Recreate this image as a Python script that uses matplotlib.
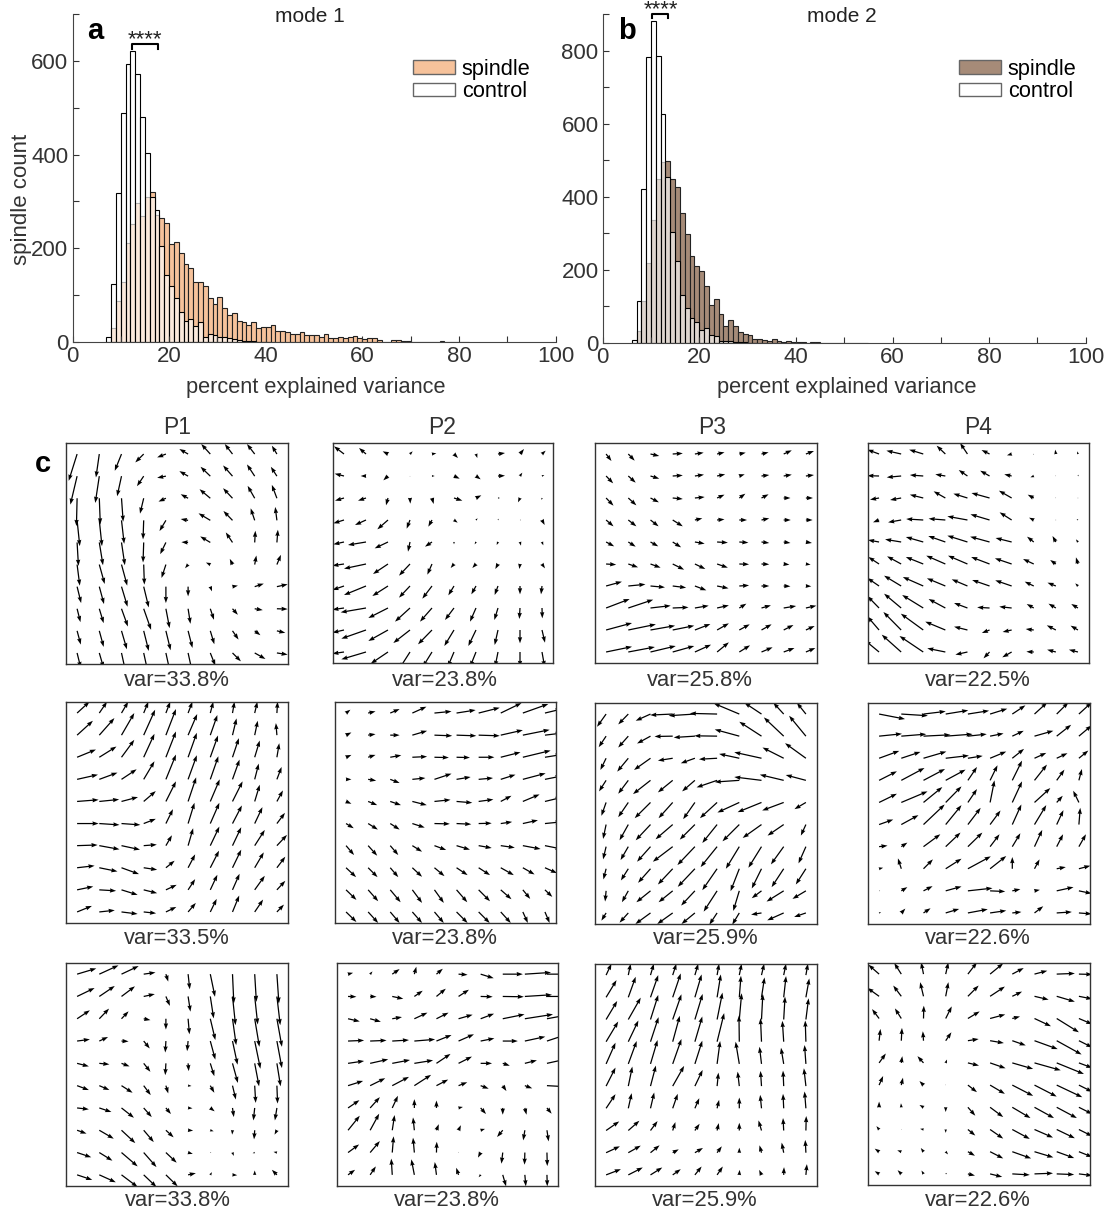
import numpy as np
import matplotlib
matplotlib.use("Agg")
import matplotlib.pyplot as plt

plt.rcParams['font.family'] = ['Liberation Sans', 'DejaVu Sans']

W = 1109
H = 1212

# histogram counts per 1% bin
ctrl_a_start = 7
ctrl_a = [11,124,319,488,593,621,572,481,403,310,282,205,143,120,94,65,44,49,35,42,11,18,16,11,10,9,6,4,3,2,2,1,1,1]
spin_a_start = 8
spin_a = [30,87,129,211,252,296,269,309,320,271,264,254,209,213,191,166,158,127,127,120,94,81,95,73,57,62,45,43,37,42,30,33,31,36,23,23,21,17,18,22,16,14,16,11,18,9,9,11,9,11,12,9,6,9,9,5,1,1,4,4,3,3,1,0,1,1,0,1,2,1,0,1,1,1]
ctrl_b_start = 6
ctrl_b = [7,116,421,782,881,784,626,455,305,223,131,95,68,58,36,40,22,19,6,6,6,4,3,2,1,1]
spin_b_start = 7
spin_b = [33,115,218,337,448,495,497,448,426,355,297,239,212,197,155,105,121,80,47,62,47,31,24,21,12,11,7,6,10,5,4,5,3,4,3,1,2,2,1,1,1,1,1,1,1,1,1,1]

x_ticks = [0, 20, 40, 60, 80, 100]
y_ticks_a = [0, 200, 400, 600]
y_ticks_b = [0, 200, 400, 600, 800]
col_titles = ['P1', 'P2', 'P3', 'P4']
var_labels = [['var=33.8%', 'var=23.8%', 'var=25.8%', 'var=22.5%'],
              ['var=33.5%', 'var=23.8%', 'var=25.9%', 'var=22.6%'],
              ['var=33.8%', 'var=23.8%', 'var=25.9%', 'var=22.6%']]

# arrow components, top row first
u11 = [[-25,-10,-20,-25,-26,-26,-27,-23,-23,-15],[-20,-12,-13,-20,-26,-26,-29,-28,-23,-18],[-2,3,5,-11,-22,-22,-32,-28,-21,-15],[8,8,8,-2,-19,-22,-35,-27,-12,-5],[4,11,10,-2,-17,-20,-30,-20,2,3],[8,16,17,2,-13,-9,-13,-8,5,12],[12,14,18,15,0,0,5,16,27,32],[10,13,19,22,11,7,11,16,24,32],[11,13,16,15,14,13,12,18,17,25],[11,13,12,12,12,12,15,25,32,32]]
v11 = [[-80,-70,-50,-25,-10,15,30,30,30,25],[-85,-80,-60,-30,-5,15,28,32,35,28],[-83,-78,-70,-46,-10,12,27,30,37,40],[-77,-77,-70,-57,-32,4,21,28,36,40],[-70,-68,-68,-60,-35,1,18,30,35,38],[-63,-58,-63,-60,-40,-11,6,17,27,29],[-49,-52,-60,-62,-49,-29,-14,3,9,7],[-40,-43,-53,-63,-58,-45,-33,-18,-4,-1],[-41,-48,-55,-60,-58,-51,-40,-26,-13,-6],[-45,-45,-55,-55,-55,-55,-38,-25,-18,-5]]
u12 = [[-30,-21,-16,8,13,12,4,21,12,11],[-28,-16,-14,0,8,17,14,21,7,7],[-27,-24,-6,1,5,25,16,6,-6,-1],[-32,-33,-32,-10,-11,11,5,2,3,8],[-32,-54,-40,-6,-21,0,-4,-4,3,4],[-35,-66,-45,-33,-14,-10,-11,-8,-2,9],[-35,-66,-47,-33,-29,-17,-14,-10,0,-3],[-35,-76,-59,-45,-36,-27,-18,-11,-2,1],[-35,-74,-59,-50,-42,-29,-23,-10,0,9],[-35,-74,-52,-32,-28,-19,-18,-9,0,8]]
v12 = [[23,18,8,8,2,-12,-12,3,15,10],[7,0,-13,-2,0,-8,-10,1,10,3],[-8,-8,-22,-17,-18,-8,8,0,-13,-6],[-10,-15,-28,-26,-20,-8,5,4,0,-15],[-7,-9,-19,-29,-14,-7,-7,-9,-11,-10],[-5,-14,-30,-35,-32,-12,-12,-15,-15,-13],[-12,-27,-30,-35,-38,-28,-25,-27,-25,-25],[-5,-13,-30,-41,-41,-36,-41,-36,-33,-31],[-8,-26,-33,-39,-43,-48,-48,-45,-40,-38],[-5,-22,-35,-50,-45,-45,-45,-45,-45,-45]]
u13 = [[16,19,26,30,26,22,19,21,24,24],[21,22,26,30,27,24,16,23,24,24],[22,24,25,30,29,22,18,21,20,21],[22,24,24,30,22,22,23,23,21,20],[24,22,23,25,29,32,27,23,20,18],[30,29,30,34,31,32,29,23,17,14],[47,51,43,40,34,34,29,23,20,16],[70,74,60,47,41,35,21,28,37,31],[77,82,73,64,46,35,31,30,29,26],[77,79,75,64,48,35,32,33,32,28]]
v13 = [[-21,-20,-6,2,4,5,4,5,11,9],[-22,-20,-8,2,4,5,5,3,4,3],[-23,-22,-13,-3,3,10,13,11,0,0],[-19,-19,-19,-19,5,2,0,5,0,0],[-13,-14,-13,-16,-5,-2,-2,-3,-3,-3],[-2,-10,-11,-17,-15,-11,-1,-1,-2,-2],[13,5,-4,-5,-13,-7,2,0,-1,-1],[27,25,7,2,7,8,13,8,6,7],[21,17,13,13,18,20,17,17,15,12],[16,15,18,18,22,29,20,14,12,12]]
u14 = [[-35,-44,-42,-26,-22,-24,-14,-2,-2,-2],[-35,-43,-40,-30,-26,-28,-22,-10,-2,2],[-27,-33,-40,-35,-42,-54,-38,-18,-2,-1],[-18,-39,-51,-50,-60,-57,-36,-14,-1,-4],[-33,-48,-52,-51,-60,-58,-48,-20,-10,-6],[-32,-42,-52,-57,-58,-55,-50,-32,-17,-6],[-35,-51,-61,-55,-47,-52,-49,-27,-25,-8],[-35,-51,-63,-50,-40,-37,-37,-21,-22,-20],[-35,-53,-67,-60,-40,-23,-27,-24,-27,-22],[-42,-58,-71,-54,-36,-18,-28,-22,-26,-27]]
v14 = [[13,10,13,25,33,12,-4,-2,13,8],[1,-4,3,5,18,16,5,-4,1,4],[-5,-6,10,20,13,15,22,10,1,0],[-7,-7,3,4,11,17,23,7,0,3],[6,8,15,18,19,16,12,16,18,8],[21,23,21,25,25,21,17,15,12,20],[24,31,27,23,20,18,17,13,10,8],[36,43,39,27,15,2,4,12,13,12],[41,54,49,25,10,-9,-6,3,14,13],[35,52,48,11,-8,-19,-16,1,7,7]]
u21 = [[37,23,20,14,13,13,9,6,8,2],[47,45,38,34,30,27,21,12,9,-3],[56,51,38,32,30,26,23,19,15,7],[62,54,45,32,30,26,24,21,12,14],[64,59,49,36,30,24,28,30,15,18],[64,60,56,36,21,19,27,28,23,24],[61,60,55,39,18,15,27,26,30,30],[52,54,52,40,26,21,26,26,27,25],[48,50,48,40,32,21,21,21,30,25],[44,46,48,37,31,23,19,20,25,21]]
v21 = [[34,34,34,34,34,34,34,34,34,34],[43,51,66,76,78,63,60,50,43,36],[23,32,52,70,77,73,65,57,50,42],[14,20,30,54,74,72,69,59,47,37],[5,6,13,31,60,72,66,60,50,33],[0,-4,-4,14,43,62,62,54,49,32],[2,-11,-12,3,31,52,57,55,47,32],[6,-11,-19,-6,21,40,51,54,46,33],[10,-3,-15,-10,15,32,45,48,42,27],[18,5,-6,-4,15,27,39,49,37,22]]
u22 = [[13,22,28,42,51,57,63,62,76,50],[16,22,28,44,53,59,63,66,80,50],[16,22,33,44,43,40,47,59,83,50],[16,24,28,39,51,42,43,44,68,50],[16,27,32,43,48,47,44,32,50,50],[23,29,28,37,46,44,39,34,45,50],[24,27,24,29,35,40,39,42,53,50],[30,28,24,29,30,33,34,39,35,36],[31,30,31,29,28,32,34,32,22,22],[31,30,28,29,28,33,33,30,15,14]]
v22 = [[10,5,12,19,5,9,16,30,27,12],[8,3,0,13,-2,-2,-2,15,16,6],[7,7,6,2,-1,-1,0,15,20,8],[0,-4,-11,4,17,7,4,14,18,10],[-7,-11,-11,-11,5,-4,6,17,21,12],[-14,-18,-18,-12,-1,-2,1,5,10,5],[-28,-30,-28,-18,-13,-12,-7,-6,-10,-10],[-28,-28,-28,-27,-25,-22,-22,-22,-20,-16],[-30,-34,-37,-39,-39,-37,-34,-28,-27,-21],[-30,-33,-33,-33,-33,-33,-33,-33,-33,-33]]
u23 = [[-27,-30,-44,-67,-78,-81,-76,-51,-31,-27],[-22,-30,-40,-54,-63,-68,-73,-66,-59,-50],[-17,-33,-49,-44,-42,-54,-60,-81,-63,-62],[-21,-30,-52,-44,-38,-61,-73,-81,-71,-60],[-14,-30,-47,-42,-35,-51,-65,-71,-64,-34],[-9,-26,-44,-51,-45,-44,-50,-56,-48,-15],[-9,-23,-40,-59,-52,-49,-40,-39,-38,-22],[-8,-22,-37,-44,-51,-44,-26,-29,-36,-30],[-3,-19,-42,-42,-41,-40,-18,-29,-51,-40],[-14,-26,-45,-46,-40,-23,-21,-31,-49,-35]]
v23 = [[-38,-31,-20,-3,-5,2,32,34,34,34],[-33,-34,-22,-1,-4,1,20,43,56,61],[-35,-40,-35,-7,-15,-3,13,18,32,45],[-33,-40,-41,-36,-33,-21,-5,10,17,16],[-40,-44,-47,-47,-50,-47,-30,-29,-24,-20],[-43,-47,-47,-44,-45,-55,-50,-40,-33,-33],[-38,-40,-45,-45,-55,-61,-66,-63,-53,-50],[-32,-35,-42,-47,-54,-64,-67,-59,-55,-47],[-32,-34,-34,-34,-44,-62,-60,-22,-32,-24],[-23,-29,-33,-33,-33,-35,-35,-5,-22,-12]]
u24 = [[77,79,66,67,63,51,39,38,35,38],[68,74,80,80,56,40,34,56,43,38],[60,57,68,69,44,48,35,35,32,28],[53,69,64,59,27,22,29,37,23,9],[53,78,56,47,27,13,29,47,18,-17],[42,51,63,47,38,31,27,35,20,4],[25,18,50,44,43,28,24,23,19,21],[12,-10,28,47,68,48,0,15,27,34],[3,18,27,47,73,45,24,16,50,38],[6,12,21,40,59,48,27,26,45,38]]
v24 = [[-15,-5,8,11,10,16,26,35,35,35],[7,6,4,6,6,8,16,16,34,32],[22,19,20,8,7,20,28,16,15,23],[27,37,34,32,40,45,59,47,32,34],[26,33,46,48,40,66,63,43,20,35],[15,28,60,58,50,42,60,58,43,50],[3,12,37,42,42,37,40,50,37,37],[3,31,28,30,37,38,35,28,5,9],[0,11,14,13,8,-2,5,3,11,-8],[2,13,14,12,11,7,3,20,3,-3]]
u31 = [[57,57,51,35,7,5,14,4,5,6],[52,46,40,33,12,7,10,9,9,10],[38,29,21,20,0,4,15,11,14,15],[38,26,21,18,-2,-3,15,15,17,15],[35,30,24,20,-2,2,12,16,13,11],[35,30,33,21,7,10,12,10,3,2],[35,36,37,24,15,13,13,4,-4,-6],[28,43,41,30,23,15,10,-1,-2,-7],[42,39,48,38,32,14,3,4,-6,-10],[45,49,48,38,35,23,5,14,0,-15]]
v31 = [[17,26,24,5,-22,-45,-67,-87,-82,-87],[25,31,30,7,-28,-45,-65,-85,-83,-85],[25,30,22,-4,-32,-46,-63,-78,-83,-83],[5,12,-1,-22,-34,-30,-55,-70,-82,-80],[-9,-3,-9,-25,-35,-23,-38,-58,-68,-68],[-13,-13,-21,-28,-23,-1,-21,-41,-51,-53],[-4,-12,-29,-27,-18,-1,-10,-27,-37,-37],[-10,-25,-38,-35,-21,-1,-3,-13,-27,-13],[-14,-24,-41,-43,-30,-4,-1,-10,-2,2],[-15,-22,-36,-36,-34,5,8,-1,13,15]]
u32 = [[15,7,22,6,19,27,39,60,78,55],[25,19,33,25,28,31,36,63,81,55],[35,32,29,39,36,42,40,65,84,55],[48,49,50,62,45,46,41,45,61,55],[48,54,53,56,42,40,34,21,36,55],[45,45,50,50,35,26,24,11,22,55],[34,29,17,0,0,13,16,0,5,14],[35,27,7,-4,7,7,13,-17,-5,5],[33,29,4,-4,1,1,-8,-4,-1,1],[21,17,-3,-9,-5,-7,-6,10,3,1]]
v32 = [[4,8,15,22,16,-2,-12,0,5,0],[-1,-1,-7,17,23,20,-1,-1,5,0],[-8,-9,5,18,18,12,15,13,13,10],[2,2,3,5,18,20,8,0,13,18],[7,12,10,9,28,20,0,-7,9,12],[14,22,26,32,18,10,-9,-16,-8,-3],[23,32,36,26,22,3,-18,-20,-20,-17],[43,49,45,38,18,15,4,-20,-30,-33],[24,34,48,44,32,2,-15,-33,-36,-40],[15,25,48,46,38,21,-7,-34,-34,-34]]
u33 = [[16,7,10,11,10,6,7,8,7,6],[31,22,23,24,20,11,5,9,7,10],[33,37,23,26,23,16,7,4,4,8],[36,30,24,21,22,21,-1,-3,-4,-2],[28,25,21,26,22,9,-11,-6,-8,-4],[28,12,16,34,23,4,-5,-3,-2,-6],[28,10,11,15,13,6,0,-4,-2,-4],[39,33,21,8,14,5,0,-9,-2,1],[41,37,27,18,24,14,0,-6,-6,-2],[44,43,35,24,20,17,1,-7,1,3]]
v33 = [[34,34,34,34,34,34,34,34,34,34],[51,61,66,71,68,68,64,59,63,56],[55,65,73,75,76,80,78,76,68,63],[60,63,73,77,75,85,78,70,62,63],[63,68,71,74,69,68,66,51,48,56],[55,58,61,60,48,40,43,45,46,53],[42,45,47,43,30,25,32,40,43,50],[27,29,28,25,20,22,23,30,37,43],[19,21,22,10,14,19,15,22,30,38],[17,22,22,17,25,25,15,15,23,32]]
u34 = [[-32,-21,-7,8,27,39,34,38,54,40],[-35,-24,-10,8,32,44,29,42,54,40],[-21,-19,1,18,35,45,23,49,66,40],[4,2,-2,17,32,41,40,69,74,40],[20,3,-18,4,33,46,62,78,81,40],[12,5,-12,0,27,44,62,66,76,40],[0,-1,-12,0,22,39,54,58,60,40],[-8,2,-10,0,22,39,52,55,54,40],[-13,-12,-8,7,21,39,56,56,52,40],[-13,-11,-6,4,21,36,52,55,52,40]]
v34 = [[28,33,35,35,35,32,18,10,2,-1],[25,32,42,42,32,29,14,-10,-16,-8],[28,30,38,36,21,12,6,-23,-41,-17],[35,38,28,25,5,-7,-14,-25,-41,-20],[28,20,20,10,-8,-16,-18,-22,-33,-15],[27,22,12,2,-21,-26,-32,-34,-36,-20],[17,12,7,-14,-25,-29,-32,-32,-32,-20],[10,0,2,-10,-18,-27,-28,-24,-26,-20],[9,4,11,-8,-12,-20,-20,-17,-19,-16],[8,11,10,3,-5,-9,-3,2,-2,-5]]

U = [[u11, u12, u13, u14], [u21, u22, u23, u24], [u31, u32, u33, u34]]
V = [[v11, v12, v13, v14], [v21, v22, v23, v24], [v31, v32, v33, v34]]

# panel boxes in pixels: left, right, top, bottom
boxes = [[(66, 288, 443, 664), (333, 553, 443, 663), (595, 817, 443, 663), (868, 1089, 443, 663)],
         [(66, 288, 702, 923), (335, 556, 702, 923), (595, 817, 703, 924), (868, 1090, 703, 924)],
         [(66, 288, 963, 1186), (337, 558, 963, 1186), (595, 817, 964, 1186), (868, 1090, 963, 1185)]]
var_x = [[177, 445, 700, 978], [177, 445, 706, 978], [178, 447, 705, 978]]
var_y = [680, 938, 1201]
title_x = [177, 442, 712, 978]


def px_axes(fig, left, right, top, bottom):
    return fig.add_axes([left / W, 1 - bottom / H, (right - left) / W, (bottom - top) / H])


def px_text(fig, x, y, s, **kw):
    kw.setdefault('ha', 'center')
    kw.setdefault('va', 'center')
    fig.text(x / W, 1 - y / H, s, **kw)


def hist_panel(ax, spin_start, spin, ctrl_start, ctrl, color, ymax, yticks):
    ax.bar(spin_start + np.arange(len(spin)), spin, width=1, align='edge', color=color,
           edgecolor='#222222', linewidth=0.8, label='spindle')
    ax.bar(ctrl_start + np.arange(len(ctrl)), ctrl, width=1, align='edge', color=(1, 1, 1, 0.65),
           edgecolor='black', linewidth=0.8, label='control')
    ax.set_xlim(0, 100)
    ax.set_ylim(0, ymax)
    ax.set_xticks(x_ticks)
    ax.set_xticks(np.arange(0, 101, 10), minor=True)
    ax.set_yticks(yticks)
    ax.set_yticks(np.arange(0, ymax + 1, 100), minor=True)
    ax.tick_params(which='both', direction='in', length=4.2, width=0.8, color='#333333',
                   labelsize=16, labelcolor='#333333', pad=3)
    ax.spines['top'].set_visible(False)
    ax.spines['right'].set_visible(False)
    ax.spines['left'].set_color('#444444')
    ax.spines['bottom'].set_color('#444444')
    ax.patch.set_alpha(0)


def add_legend(ax, anchor):
    leg = ax.legend(loc='upper left', bbox_to_anchor=anchor, frameon=False, fontsize=15.7,
                    handlelength=1.9, handleheight=0.55, labelspacing=0.06, handletextpad=0.32,
                    borderaxespad=0, labelcolor='black')
    for p in leg.get_patches():
        p.set_edgecolor('#666666')
        p.set_linewidth(1.0)


fig = plt.figure(figsize=(W / 100, H / 100), dpi=100)

ax_a = px_axes(fig, 72.5, 555.5, 14, 342)
hist_panel(ax_a, spin_a_start, spin_a, ctrl_a_start, ctrl_a, '#F6C29B', 700, y_ticks_a)
add_legend(ax_a, ((404.5 - 72.5) / 483, 1 - (50 - 14) / 328))
ax_a.plot([12.4, 12.4, 17.6, 17.6], [626, 637, 637, 626], color='black', lw=1.5, clip_on=False)
ax_a.text(15, 622, '****', ha='center', va='bottom', fontsize=16, color='#222222')

ax_b = px_axes(fig, 602.7, 1085.7, 14, 343)
hist_panel(ax_b, spin_b_start, spin_b, ctrl_b_start, ctrl_b, '#A68B78', 900, y_ticks_b)
add_legend(ax_b, ((950.5 - 602.7) / 483, 1 - (50 - 14) / 329))
ax_b.plot([10.3, 10.3, 13.6, 13.6], [889, 900, 900, 889], color='black', lw=1.5, clip_on=False)
ax_b.text(12, 884, '****', ha='center', va='bottom', fontsize=16, color='#222222')

px_text(fig, 22, 199, 'spindle count', rotation=90, fontsize=16, color='#333333')
px_text(fig, 316, 387, 'percent explained variance', fontsize=15.7, color='#333333')
px_text(fig, 847, 387, 'percent explained variance', fontsize=15.7, color='#333333')
px_text(fig, 310, 16, 'mode 1', fontsize=15, color='#222222')
px_text(fig, 842, 16, 'mode 2', fontsize=15, color='#222222')
px_text(fig, 95, 31, 'a', fontsize=21, fontweight='bold')
px_text(fig, 627, 31, 'b', fontsize=21, fontweight='bold')
px_text(fig, 43, 464, 'c', fontsize=21, fontweight='bold')

X, Y = np.meshgrid(np.arange(10) + 0.5, 9.5 - np.arange(10))
for r in range(3):
    px_y = var_y[r]
    for c in range(4):
        ax = px_axes(fig, *boxes[r][c])
        ax.quiver(X, Y, np.array(U[r][c]), np.array(V[r][c]), color='black', angles='xy',
                  scale_units='xy', scale=66, pivot='tail', units='dots', width=1.25,
                  headwidth=3.5, headlength=5, headaxislength=4.6, minlength=0.5, minshaft=0.95)
        ax.set_xlim(0, 10)
        ax.set_ylim(0, 10)
        ax.set_xticks([])
        ax.set_yticks([])
        for s in ax.spines.values():
            s.set_linewidth(1.0)
            s.set_color('#333333')
        px_text(fig, var_x[r][c], px_y, var_labels[r][c], fontsize=15.8, color='#333333')

for c in range(4):
    px_text(fig, title_x[c], 427, col_titles[c], fontsize=16.5, color='#333333')

fig.savefig('out.png', dpi=100)
